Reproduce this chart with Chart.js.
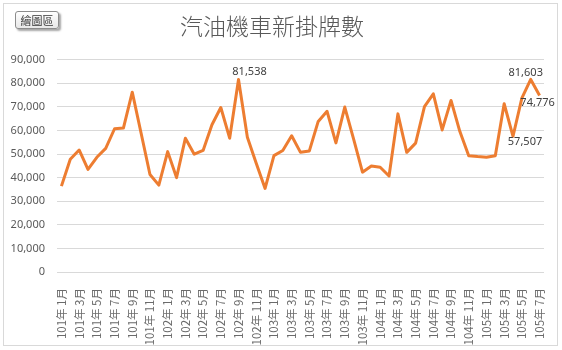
<!DOCTYPE html>
<html>
<head>
<meta charset="utf-8">
<script src="https://cdn.jsdelivr.net/npm/chart.js@4"></script>
<style>
  html, body { margin: 0; padding: 0; background: #fff; }
  #wrap { position: relative; width: 562px; height: 350px; }
  #frame { position: absolute; left: 3px; top: 3px; width: 555px; height: 343px; border: 1px solid #d9d9d9; box-sizing: border-box; }
  #tag {
    position: absolute; left: 15px; top: 11px; width: 44px; height: 18px;
    border: 1px solid #8c8c8c; border-radius: 3px; box-sizing: border-box;
    background: linear-gradient(#ffffff, #e8e8e8);
    box-shadow: 2px 2px 2px rgba(0,0,0,0.35);
    font: 11px "Noto Sans CJK TC", sans-serif; color: #333; line-height: 16px; text-align: center;
  }
  canvas { position: absolute; left: 0; top: 0; }
</style>
</head>
<body>
<div id="wrap">
  <div id="frame"></div>
  <canvas id="lineChart" width="562" height="350"></canvas>
  <div id="tag">繪圖區</div>
</div>
<script>
// months (ROC years 101-105)
const months = [
  '101年 1月', '101年 2月', '101年 3月', '101年 4月', '101年 5月', '101年 6月',
  '101年 7月', '101年 8月', '101年 9月', '101年 10月', '101年 11月', '101年 12月',
  '102年 1月', '102年 2月', '102年 3月', '102年 4月', '102年 5月', '102年 6月',
  '102年 7月', '102年 8月', '102年 9月', '102年 10月', '102年 11月', '102年 12月',
  '103年 1月', '103年 2月', '103年 3月', '103年 4月', '103年 5月', '103年 6月',
  '103年 7月', '103年 8月', '103年 9月', '103年 10月', '103年 11月', '103年 12月',
  '104年 1月', '104年 2月', '104年 3月', '104年 4月', '104年 5月', '104年 6月',
  '104年 7月', '104年 8月', '104年 9月', '104年 10月', '104年 11月', '104年 12月',
  '105年 1月', '105年 2月', '105年 3月', '105年 4月', '105年 5月', '105年 6月',
  '105年 7月'
];

// new gasoline scooter registrations
const registrations = [
  36400, 47800, 51700, 43500, 48600, 52400, 60700, 61000, 76200, 58800, 41300, 36800,
  51000, 40000, 56700, 49900, 51500, 62400, 69700, 56700, 81538, 57100, 46100, 35400,
  49300, 51500, 57700, 50700, 51300, 63800, 68100, 54700, 69900, 56300, 42300, 44900,
  44400, 40700, 67000, 50700, 54600, 70100, 75500, 60200, 72700, 59500, 49300, 48900,
  48600, 49300, 71300, 57507, 73700, 81603, 74776
];

const yTicks = [0, 10000, 20000, 30000, 40000, 50000, 60000, 70000, 80000, 90000];

// which points get a value label, and where it sits relative to the point
const labelled = [
  { index: 20, dx: 11, dy: -8 },
  { index: 51, dx: 12, dy: 6 },
  { index: 53, dx: -5, dy: -7 },
  { index: 54, dx: -2, dy: 7 }
];

const fmt = v => v.toLocaleString('en-US');

const valueLabels = {
  id: 'valueLabels',
  afterDatasetsDraw(chart) {
    const ctx = chart.ctx;
    const meta = chart.getDatasetMeta(0);
    ctx.save();
    ctx.font = '11px "Noto Sans", sans-serif';
    ctx.fillStyle = '#404040';
    ctx.textAlign = 'center';
    ctx.textBaseline = 'middle';
    labelled.forEach(l => {
      const pt = meta.data[l.index];
      ctx.fillText(fmt(registrations[l.index]), pt.x + l.dx, pt.y + l.dy);
    });
    ctx.restore();
  }
};

const lineChart = new Chart(document.getElementById('lineChart'), {
  type: 'line',
  data: {
    labels: months,
    datasets: [{
      label: '汽油機車新掛牌數',
      data: registrations,
      borderColor: '#ED7D31',
      borderWidth: 3,
      borderJoinStyle: 'round',
      pointRadius: 0,
      tension: 0,
      fill: false
    }]
  },
  options: {
    responsive: false,
    animation: false,
    layout: { padding: { left: 0, right: 18, top: 0, bottom: 0 } },
    plugins: {
      legend: { display: false },
      tooltip: { enabled: false },
      title: {
        display: true,
        text: '汽油機車新掛牌數',
        color: '#595959',
        font: { family: '"Noto Sans CJK TC", sans-serif', size: 23, weight: 300, lineHeight: 1.2 },
        padding: { top: 12, bottom: 20 }
      }
    },
    scales: {
      x: {
        offset: true,
        grid: { display: false },
        border: { display: false },
        ticks: {
          autoSkip: false,
          minRotation: 90,
          maxRotation: 90,
          padding: 8,
          color: '#6b6b6b',
          font: { family: '"Noto Sans CJK TC", sans-serif', size: 11.5 },
          callback: function (val, idx) { return idx % 2 === 0 ? this.getLabelForValue(val) : ''; }
        },
        afterFit(scale) { scale.height = 78; }
      },
      y: {
        min: 0,
        max: 90000,
        afterBuildTicks(scale) { scale.ticks = yTicks.map(v => ({ value: v })); },
        grid: { color: '#d9d9d9', drawTicks: false },
        border: { display: false },
        ticks: {
          padding: 12,
          color: '#595959',
          font: { family: '"Noto Sans", sans-serif', size: 11 },
          callback: v => fmt(v)
        },
        afterFit(scale) { scale.width = 57; }
      }
    }
  },
  plugins: [valueLabels]
});
</script>
</body>
</html>
